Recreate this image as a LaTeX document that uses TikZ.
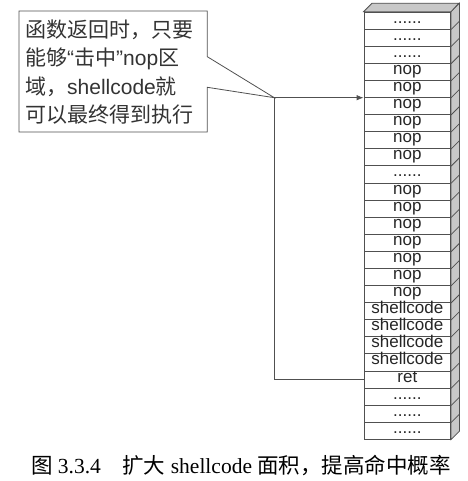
\documentclass[tikz,border=0pt]{standalone}
\usepackage{fontspec}
\setmainfont{Liberation Serif}
\newfontfamily\cjk{Noto Sans CJK SC}
\newfontfamily\arial{Liberation Sans}
\usetikzlibrary{arrows.meta, calc}
\definecolor{edgegray}{HTML}{505050}
\definecolor{sidegray}{HTML}{C8C8C8}
\tikzstyle{line} = [draw, edgegray, line width=0.8pt, -{Latex[length=7pt, width=5.5pt]}]
\tikzstyle{wire} = [draw, edgegray, line width=0.8pt]
\tikzstyle{cell} = [rectangle, draw=edgegray, line width=0.75pt, fill=white, minimum width=86.7pt, minimum height=17.09pt, inner sep=0pt, text height=0.72em, text depth=0.2em, text=black!85, font=\arial\fontsize{17}{17}\selectfont]
\tikzstyle{face} = [draw=edgegray, line width=0.75pt, fill=sidegray]
\tikzstyle{note} = [align=left, inner sep=0pt, anchor=west, text=black!80, font=\arial\fontsize{21}{28.5}\selectfont]
\newcommand{\rowdots}{......}

\begin{document}
\begin{tikzpicture}[x=1pt, y=-1pt]
	\useasboundingbox (0,0) rectangle (467,481);
	
	% stack
	\foreach \lbl [count=\i from 0] in {\rowdots,\rowdots,\rowdots,nop,nop,nop,nop,nop,nop,\rowdots,nop,nop,nop,nop,nop,nop,nop,shellcode,shellcode,shellcode,shellcode,ret,\rowdots,\rowdots,\rowdots}
		\node [cell] (r\i) at (407.35, {20.55+17.09*\i}) {\lbl};
	\path [face] (r0.north east) -- ++(8.5,-8.5) -- ($(r24.south east)+(8.5,-8.5)$) -- (r24.south east) -- cycle;
	\path [face] (r0.north west) -- ++(8.5,-8.5) -- ++(86.7,0) -- (r0.north east) -- cycle;
	\foreach \i in {0,...,23}
		\draw [edgegray, line width=0.75pt] (r\i.south east) -- ++(8.5,-8.5);
	
	% callout
	\coordinate (tip) at (274.3,97.7);
	\draw [wire] (19,11) -- (207.3,11) -- (207.3,56.7) -- (tip) -- (207.3,87.3) -- (207.3,132) -- (19,132) -- cycle;
	\node [note] (msg) at (25,72) {{\cjk 函数返回时，只要}\\{\cjk 能够}“{\cjk 击中}”nop{\cjk 区}\\{\cjk 域，}shellcode{\cjk 就}\\{\cjk 可以最终得到执行}};
	
	\path [line] (tip) -- (tip -| r5.west);
	\path [wire] (tip) |- (r21.west);
	
	% caption
	\node [font=\fontsize{21.5}{24}\selectfont] (caption) at (241,465.5) {{\cjk 图} 3.3.4{\cjk 　扩大} shellcode {\cjk 面积，提高命中概率}};
\end{tikzpicture}
\end{document}
